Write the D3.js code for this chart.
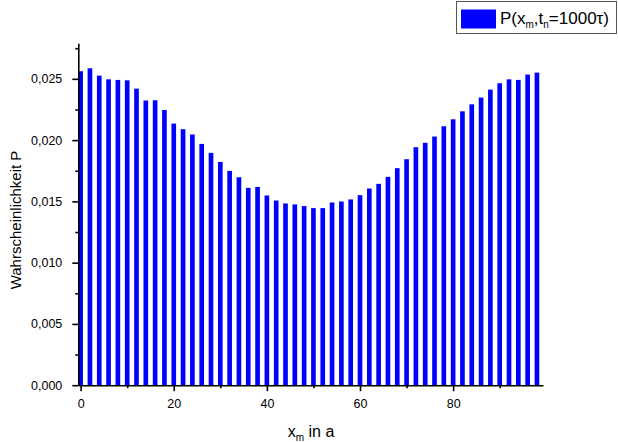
<!DOCTYPE html>
<html lang="de">
  <head>
    <meta charset="utf-8">
    <title>P(x_m, t_n = 1000 tau)</title>
    <script type="text/javascript" src="https://d3js.org/d3.v7.min.js" charset="utf-8"></script>
    <style type="text/css">
      body { margin: 0; background: #fff; }
      svg { font-family: "Liberation Sans", Arial, sans-serif; }
      .axis path, .axis line { stroke: #000; stroke-width: 1.6; }
      .axis text { font-size: 12.5px; fill: #000; }
    </style>
  </head>
  <body>
<script type="text/javascript">

// positions x_m (in units of a)
var positions = [0, 2, 4, 6, 8, 10, 12, 14, 16, 18,
                 20, 22, 24, 26, 28, 30, 32, 34, 36, 38,
                 40, 42, 44, 46, 48, 50, 52, 54, 56, 58,
                 60, 62, 64, 66, 68, 70, 72, 74, 76, 78,
                 80, 82, 84, 86, 88, 90, 92, 94, 96, 98];

// probability P(x_m, t_n = 1000 tau)
var probs = [0.02562, 0.02586, 0.02526, 0.02496, 0.02491, 0.02488, 0.02420, 0.02323, 0.02325, 0.02246,
             0.02135, 0.02089, 0.02046, 0.01969, 0.01896, 0.01822, 0.01749, 0.01697, 0.01610, 0.01618,
             0.01548, 0.01507, 0.01483, 0.01475, 0.01462, 0.01445, 0.01445, 0.01491, 0.01499, 0.01516,
             0.01551, 0.01605, 0.01643, 0.01700, 0.01771, 0.01844, 0.01942, 0.01978, 0.02029, 0.02113,
             0.02170, 0.02235, 0.02292, 0.02347, 0.02412, 0.02464, 0.02496, 0.02491, 0.02535, 0.02551];

var xTicks = [0, 20, 40, 60, 80];
var xMinor = [10, 30, 50, 70, 90];
var yTicks = [0, 0.005, 0.010, 0.015, 0.020, 0.025];
var yMinor = [0.0025, 0.0075, 0.0125, 0.0175, 0.0225, 0.0275];

var data = positions.map((p, i) => ({x: p, p: probs[i]}));

var W = 618, H = 442;
var margin = {top: 43.3, right: 75, bottom: 56.8, left: 78.3};

var svg = d3.select("body").append("svg")
    .attr("width", W)
    .attr("height", H);

var x = d3.scaleLinear()
    .domain([-0.5, 99.3])
    .range([margin.left, W - margin.right]);

var y = d3.scaleLinear()
    .domain([0, 0.0279])
    .range([H - margin.bottom, margin.top]);

// bars, one unit wide
svg.append("g")
  .selectAll("rect")
  .data(data)
  .join("rect")
    .attr("x", d => x(d.x - 0.5))
    .attr("width", d => x(d.x + 0.5) - x(d.x - 0.5))
    .attr("y", d => y(d.p))
    .attr("height", d => y(0) - y(d.p))
    .attr("fill", "#0000ff");

var fmtY = v => d3.format(".3f")(v).replace(".", ",");

// minor ticks first, major axes on top
svg.append("g").attr("class", "axis")
    .attr("transform", `translate(0,${y(0)})`)
    .call(d3.axisBottom(x).tickValues(xMinor).tickSize(3).tickSizeOuter(0).tickFormat(""))
    .call(g => g.select(".domain").remove());

svg.append("g").attr("class", "axis")
    .attr("transform", `translate(${x.range()[0]},0)`)
    .call(d3.axisLeft(y).tickValues(yMinor).tickSize(3).tickSizeOuter(0).tickFormat(""))
    .call(g => g.select(".domain").remove());

svg.append("g").attr("class", "axis")
    .attr("transform", `translate(0,${y(0)})`)
    .call(d3.axisBottom(x).tickValues(xTicks).tickSize(6).tickSizeOuter(0).tickPadding(8).tickFormat(d3.format("d")));

svg.append("g").attr("class", "axis")
    .attr("transform", `translate(${x.range()[0]},0)`)
    .call(d3.axisLeft(y).tickValues(yTicks).tickSize(6).tickSizeOuter(0).tickPadding(10).tickFormat(fmtY));

// axis titles
var xt = svg.append("text")
    .attr("x", 311)
    .attr("y", 437)
    .attr("text-anchor", "middle")
    .attr("font-size", 16);
xt.append("tspan").text("x");
xt.append("tspan").attr("font-size", 10).attr("dy", 4).text("m");
xt.append("tspan").attr("dy", -4).text(" in a");

svg.append("text")
    .attr("transform", "translate(21,220) rotate(-90)")
    .attr("text-anchor", "middle")
    .attr("font-size", 15)
    .text("Wahrscheinlichkeit P");

// legend
var lg = svg.append("g");
lg.append("rect")
    .attr("x", 456.5).attr("y", 1.5)
    .attr("width", 160).attr("height", 32)
    .attr("fill", "#fff")
    .attr("stroke", "#555");
lg.append("rect")
    .attr("x", 461).attr("y", 9.5)
    .attr("width", 35).attr("height", 19)
    .attr("fill", "#0000ff");
var lt = lg.append("text")
    .attr("x", 500)
    .attr("y", 24)
    .attr("font-size", 17);
lt.append("tspan").text("P(x");
lt.append("tspan").attr("font-size", 10).attr("dy", 4).text("m");
lt.append("tspan").attr("dy", -4).text(",t");
lt.append("tspan").attr("font-size", 10).attr("dy", 4).text("n");
lt.append("tspan").attr("dy", -4).text("=1000\u03c4)");

</script>
  </body>
</html>
